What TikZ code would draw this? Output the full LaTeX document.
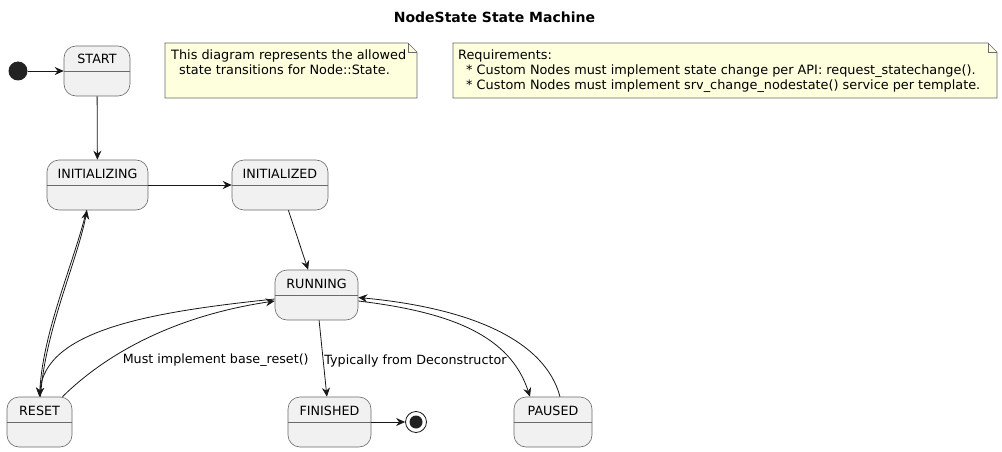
\documentclass[tikz,border=0pt]{standalone}
\usepackage{fontspec}
\setmainfont{DejaVu Sans}
\usetikzlibrary{arrows.meta, positioning}

\definecolor{statefill}{HTML}{F1F1F1}
\definecolor{notefill}{HTML}{FEFFDD}
\definecolor{linecol}{HTML}{181818}
\definecolor{bordercol}{HTML}{6A6A6A}
\definecolor{dotcol}{HTML}{222222}

\tikzset{
    statebox/.style={draw=bordercol, line width=0.6pt, fill=statefill, rounded corners=12pt,
        inner xsep=0pt, inner ysep=0pt, text height=18pt, text depth=32pt,
        font=\fontsize{12.7}{15}\selectfont},
    transition/.style={-{Stealth[length=9pt, width=8pt, inset=3pt]}, draw=linecol, line width=0.8pt},
    edgelabel/.style={font=\fontsize{12.7}{15}\selectfont, inner sep=1pt},
    notebox/.style={draw=bordercol, line width=0.6pt, fill=notefill},
    notetext/.style={font=\fontsize{12.85}{15}\selectfont, align=left, inner sep=0pt, anchor=north west}
}

\begin{document}
\begin{tikzpicture}[x=1pt, y=-1pt]
    \fill[white] (0,0) rectangle (1002,452);
    \useasboundingbox (0,0) rectangle (1002,452);

    % Title
    \node[font=\fontsize{14}{16}\selectfont\bfseries] (title) at (494.5,17) {NodeState State Machine};

    % Notes
    \draw[notebox] (165,43) -- (408,43) -- (417,52) -- (417,98) -- (165,98) -- cycle;
    \draw[bordercol, line width=0.6pt] (408,43) -- (408,52) -- (417,52);
    \node[notetext] (about) at (171,50) {This diagram represents the allowed\\\hspace*{8pt}state transitions for Node::State.};

    \draw[notebox] (453,43) -- (988,43) -- (997,52) -- (997,98) -- (453,98) -- cycle;
    \draw[bordercol, line width=0.6pt] (988,43) -- (988,52) -- (997,52);
    \node[notetext] (requirements) at (458,50) {Requirements:\\\hspace*{8pt}* Custom Nodes must implement state change per API: request\_statechange().\\\hspace*{8pt}* Custom Nodes must implement srv\_change\_nodestate() service per template.};

    % States
    \node[circle, fill=dotcol, minimum size=19pt, inner sep=0pt] (init) at (18,71) {};
    \node[statebox, minimum width=66pt] (start) at (97,71) {START};
    \node[statebox, minimum width=101pt] (initializing) at (97.5,185) {INITIALIZING};
    \node[statebox, minimum width=96pt] (initialized) at (280,185) {INITIALIZED};
    \node[statebox, minimum width=83pt] (running) at (316.5,295) {RUNNING};
    \node[statebox, minimum width=65pt] (reset) at (39.5,422) {RESET};
    \node[statebox, minimum width=83pt] (finished) at (329.5,422) {FINISHED};
    \node[statebox, minimum width=78pt] (paused) at (553,422) {PAUSED};
    \node[circle, draw=linecol, line width=0.8pt, fill=white, minimum size=21pt, inner sep=0pt] (final) at (416,422) {};
    \fill[dotcol] (final.center) circle (6.5pt);

    \foreach \s in {start, initializing, initialized, running, reset, finished, paused}
    \draw[bordercol, line width=0.6pt] (\s.west) -- (\s.east);

    % Transitions
    \draw[transition] (init) -- (start);
    \draw[transition] (start) -- (initializing);
    \draw[transition] (initializing) -- (initialized);
    \draw[transition] (initialized) -- (running);
    \draw[transition] ([xshift=-11pt]initializing.south) .. controls (75,260) and (43,330) .. (reset.north);
    \draw[transition] ([xshift=1pt]reset.north) .. controls (45,330) and (77,262) .. ([xshift=-10.5pt]initializing.south);
    \draw[transition] ([yshift=-4pt]running.west) .. controls (150,312) and (45,330) .. (reset.north);
    \draw[transition] ([xshift=23pt]reset.north) .. controls (110,350) and (180,315) .. ([yshift=-6pt]running.west)
        node[edgelabel, pos=0.3, anchor=west, xshift=10pt, yshift=-2pt] {Must implement base\_reset()};
    \draw[transition] (running) -- node[edgelabel, anchor=west, yshift=-2pt] {Typically from Deconstructor} (finished);
    \draw[transition] ([yshift=-6pt]running.east) .. controls (450,312) and (510,335) .. ([xshift=-23pt]paused.north);
    \draw[transition] ([xshift=7pt]paused.north) .. controls (545,340) and (470,308) .. ([yshift=-2.5pt]running.east);
    \draw[transition] (finished) -- (final);
\end{tikzpicture}
\end{document}
